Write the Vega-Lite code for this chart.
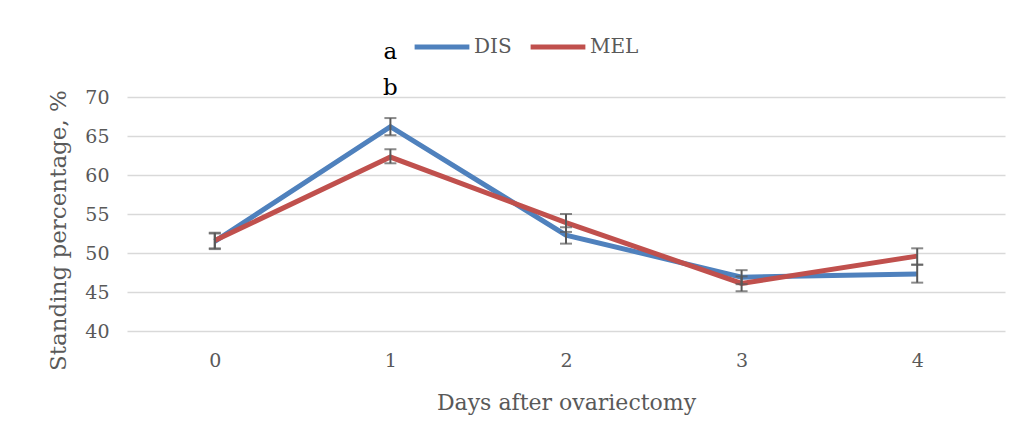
{
  "$schema": "https://vega.github.io/schema/vega-lite/v6.json",
  "width": 878,
  "height": 234,
  "padding": {"left": 127, "top": 97, "right": 17, "bottom": 114},
  "autosize": {"type": "none"},
  "background": "white",
  "config": {
    "font": "DejaVu Serif",
    "view": {"stroke": null},
    "axis": {"labelFont": "DejaVu Serif", "titleFont": "DejaVu Serif", "labelColor": "#595959", "titleColor": "#595959", "titleFontWeight": "normal"},
    "axisY": {"tickCount": 10, "labelOverlap": false, "labelFontSize": 19, "titleFontSize": 23, "labelPadding": 18, "titlePadding": 14, "titleY": 133, "domain": false, "ticks": false, "grid": true, "gridColor": "#D9D9D9", "gridWidth": 1.5}
  },
  "datasets": {
    "series": [
      {"day": "0", "group": "DIS", "mean": 51.5, "lo": 50.5, "hi": 52.6},
      {"day": "1", "group": "DIS", "mean": 66.2, "lo": 65.1, "hi": 67.3},
      {"day": "2", "group": "DIS", "mean": 52.3, "lo": 51.2, "hi": 53.3},
      {"day": "3", "group": "DIS", "mean": 46.9, "lo": 46.0, "hi": 47.8},
      {"day": "4", "group": "DIS", "mean": 47.3, "lo": 46.2, "hi": 48.5},
      {"day": "0", "group": "MEL", "mean": 51.6, "lo": 50.6, "hi": 52.5},
      {"day": "1", "group": "MEL", "mean": 62.3, "lo": 61.5, "hi": 63.3},
      {"day": "2", "group": "MEL", "mean": 53.9, "lo": 52.7, "hi": 55.0},
      {"day": "3", "group": "MEL", "mean": 46.1, "lo": 45.1, "hi": 47.0},
      {"day": "4", "group": "MEL", "mean": 49.6, "lo": 48.5, "hi": 50.6}
    ],
    "notes": [
      {"day": "1", "label": "a", "pos": 75.8},
      {"day": "1", "label": "b", "pos": 71.2}
    ]
  },
  "encoding": {
    "x": {
      "field": "day", "type": "ordinal",
      "scale": {"type": "point", "padding": 0.5},
      "axis": {"title": "Days after ovariectomy", "labelAngle": 0, "labelFontSize": 19, "titleFontSize": 22, "labelPadding": 20, "titlePadding": 22, "domain": false, "ticks": false}
    }
  },
  "layer": [
    {
      "data": {"name": "series"},
      "mark": {"type": "line", "strokeWidth": 5, "clip": false},
      "encoding": {
        "y": {
          "field": "mean", "type": "quantitative",
          "scale": {"domain": [40, 70], "nice": false, "zero": false},
          "axis": {"title": "Standing percentage, %", "values": [40, 45, 50, 55, 60, 65, 70], "tickCount": 10}
        },
        "color": {
          "field": "group", "type": "nominal",
          "scale": {"domain": ["DIS", "MEL"], "range": ["#4F81BD", "#C0504D"]},
          "legend": {"title": null, "orient": "none", "legendX": 285, "legendY": -80, "direction": "horizontal", "symbolType": "stroke", "symbolStrokeWidth": 5, "symbolSize": 3000, "labelFontSize": 20, "labelColor": "#595959", "labelFont": "DejaVu Serif", "columnPadding": 8, "labelOffset": 2}
        }
      }
    },
    {
      "data": {"name": "series"},
      "mark": {"type": "rule", "color": "#595959", "strokeWidth": 2},
      "encoding": {
        "y": {"field": "lo", "type": "quantitative"},
        "y2": {"field": "hi"}
      }
    },
    {
      "data": {"name": "series"},
      "mark": {"type": "tick", "color": "#595959", "thickness": 2, "size": 12, "orient": "horizontal"},
      "encoding": {
        "y": {"field": "lo", "type": "quantitative"}
      }
    },
    {
      "data": {"name": "series"},
      "mark": {"type": "tick", "color": "#595959", "thickness": 2, "size": 12, "orient": "horizontal"},
      "encoding": {
        "y": {"field": "hi", "type": "quantitative"}
      }
    },
    {
      "data": {"name": "notes"},
      "mark": {"type": "text", "fontSize": 23, "color": "black", "font": "DejaVu Serif", "clip": false},
      "encoding": {
        "y": {"field": "pos", "type": "quantitative"},
        "text": {"field": "label"}
      }
    }
  ]
}
